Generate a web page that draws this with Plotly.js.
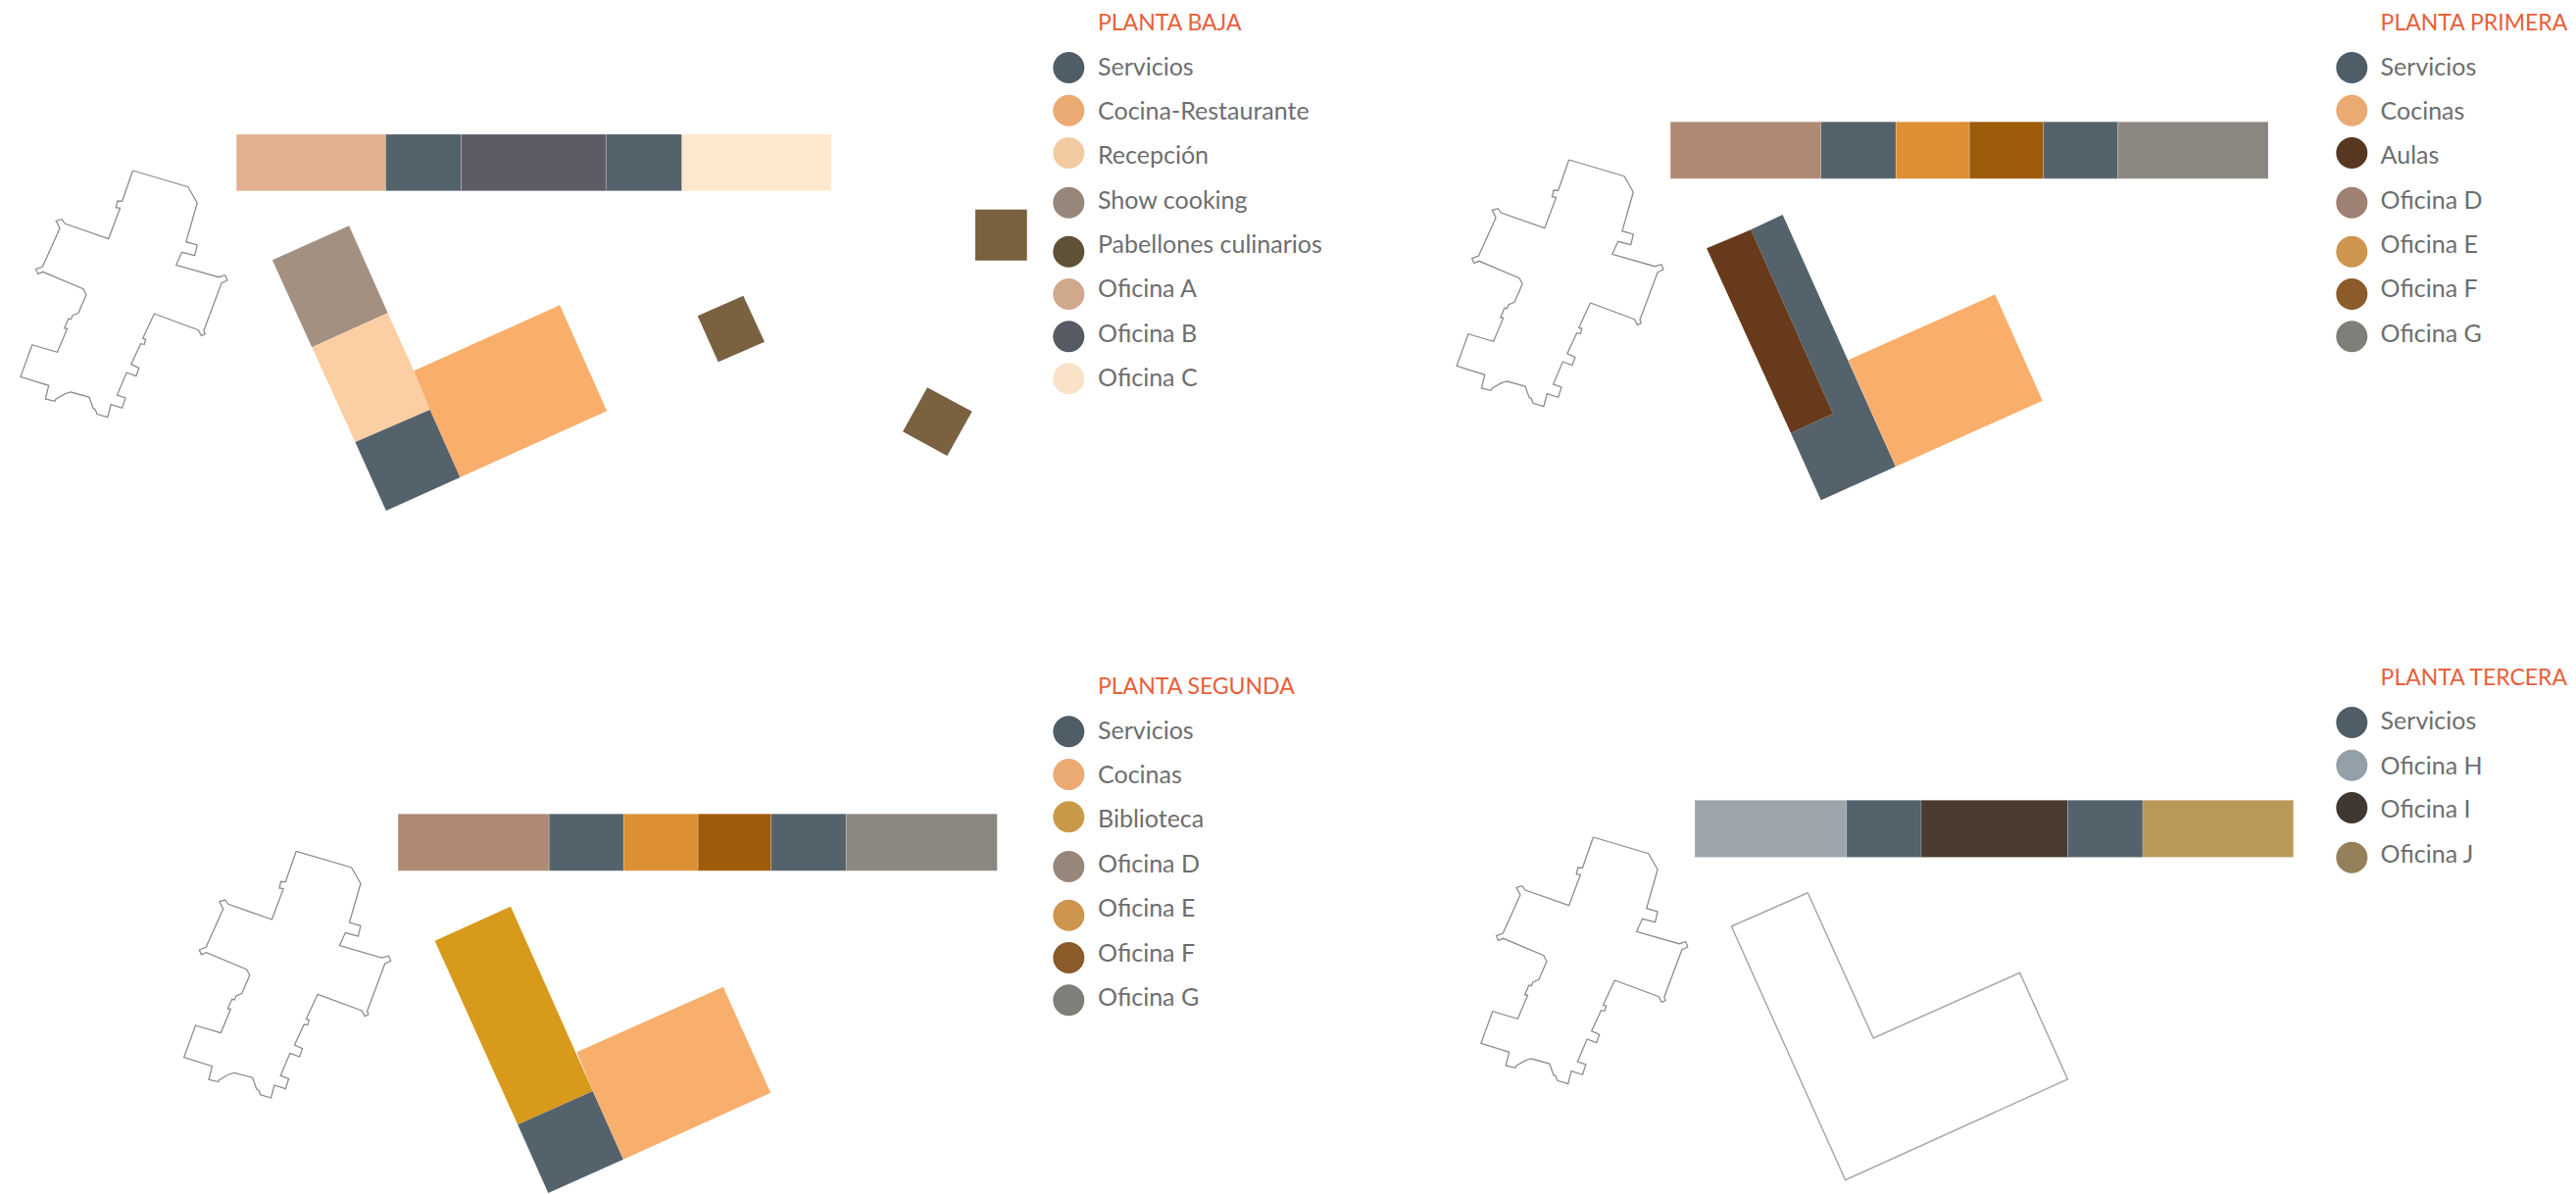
<!DOCTYPE html>
<html>
<head>
<meta charset="utf-8">
<script src="https://cdn.plot.ly/plotly-3.0.1.min.js"></script>
<style>html,body{margin:0;padding:0;background:#fff}#chart{width:2628px;height:1218px}</style>
</head>
<body>
<div id="chart"></div>
<script>
// ---- Site outline (plan units, panel 1 placement) ----
const outlineX = [135.5,191.9,201.2,189.8,201.2,198.7,185.6,179.7,223.1,229.8,231.9,226.0,207.9,209.2,205.4,202.4,157.4,145.6,148.6,147.3,143.5,133.8,141.8,138.9,129.2,119.5,127.9,124.6,113.2,109.8,98.9,97.2,95.1,93.4,90.9,72.4,66.5,56.8,56.0,46.3,49.7,21.0,32.8,58.5,68.6,65.7,69.9,72.4,74.1,80.0,88.0,85.0,43.8,38.7,36.6,43.4,61.0,57.2,63.1,66.1,110.7,122.5,118.3,119.9,124.6,135.5];
const outlineY = [174,190.7,207,246.7,250,260.7,257.3,270.3,282.7,280.7,286,288.7,337.3,340.7,342.3,336.7,320,345.3,346,351.3,350.7,371.7,375.3,383.7,380,403,406,416.3,412.7,425.7,422.3,417.7,416.7,411.7,405,400,401.7,407.3,409.3,407,393.3,384.3,351.7,359.3,335.3,334.7,325,325.7,321.7,319.3,300.7,294.7,277.3,279.3,274.7,272,233,225.3,223.7,228,243.7,212.3,211.7,205,205.3,174];
const outlineShiftX = [0, 1465.1, 166.7, 1489.9];
const outlineShiftY = [0, -11, 694.3, 680];

// ---- Strip bars ----
const barEdges1 = [241.2,393.5,470.5,618.3,695.7,848];
const barEdges2 = [1704.1,1857.7,1934.3,2009.2,2084.7,2160.7,2314];
const barEdges3 = [406.1,560.2,636.3,712.1,786.7,863.3,1017.3];
const barEdges4 = [1729,1883.8,1960,2109.7,2186,2339.7];
const barRange1 = [137,194.7];
const barRange2 = [124.3,182.3];
const barRange3 = [830.3,888.3];
const barRange4 = [816.3,874.5];
const barColors1 = ['#e2b08f','#54626c','#5f5b66','#54626c','#fde8cd'];
const barColors2 = ['#af8974','#54626c','#dc8f33','#9e5b0a','#54626c','#8c8680'];
const barColors3 = ['#af8974','#54626c','#dc8f33','#9e5b0a','#54626c','#8c8680'];
const barColors4 = ['#9da4ab','#54626c','#4b3c32','#54626c','#ba9958'];

// ---- Plan blocks ----
const blocks = [
  ['Show cooking',[356.1,395.6,318.2,277.8],[230.3,319.3,354.3,265.3],'#a39080'],
  ['Recepción',[395.6,422.1,438.6,362.4,318.2],[319.3,378.3,418,451,354.3],'#fbcfa3'],
  ['Cocina-Restaurante',[571.1,619.1,469.3,438.6,422.1],[311.3,419.3,487,418,378.3],'#f9ae6b'],
  ['Servicios',[438.6,469.3,393.9,362.4],[418,487,521,451],'#54626c'],
  ['Pabellón 1',[995,1047.7,1047.7,995],[213.7,213.7,265.7,265.7],'#7a6140'],
  ['Pabellón 2',[758.3,780,732.7,711.7],[301.7,348.7,369.3,322.3],'#7a6140'],
  ['Pabellón 3',[946,991.7,966.3,921],[395.3,419.7,465,440.3],'#7a6140'],
  ['Servicios',[1818.6,1933.9,1857.7,1827,1869.9,1786.2],[219,476,510.3,441.7,422,234.3],'#54626c'],
  ['Aulas',[1786.2,1869.9,1827,1741.1],[234.3,422,441.7,253.3],'#683a1c'],
  ['Cocinas',[2035.3,2083.7,1933.9,1885.5],[300.3,408.7,476,367.3],'#f9ae6b'],
  ['Biblioteca',[521,604.8,528.2,443.6],[924.7,1113,1147.3,959.7],'#d89a1b'],
  ['Servicios',[604.8,635.9,559.3,528.2],[1113,1182.7,1217,1147.3],'#54626c'],
  ['Cocinas',[737.8,786.2,635.9,604.8,588.4],[1006.7,1114.7,1182.7,1113,1073.3],'#f8ae6d']
];
const emptyBlockX = [1844.3,1911.2,2060.6,2109.4,1882.6,1766.4,1844.3];
const emptyBlockY = [910.7,1059,992.3,1101,1203.7,945,910.7];

// ---- Legends ----
const titles = ['PLANTA BAJA','PLANTA PRIMERA','PLANTA SEGUNDA','PLANTA TERCERA'];
const titleY = [25,25,702,693];
const labels1 = ['Servicios','Cocina-Restaurante','Recepción','Show cooking','Pabellones culinarios','Oficina A','Oficina B','Oficina C'];
const labels2 = ['Servicios','Cocinas','Aulas','Oficina D','Oficina E','Oficina F','Oficina G'];
const labels3 = ['Servicios','Cocinas','Biblioteca','Oficina D','Oficina E','Oficina F','Oficina G'];
const labels4 = ['Servicios','Oficina H','Oficina I','Oficina J'];
const dotY1 = [69,112.7,156,206.7,256.7,300,343.3,386.3];
const dotY2 = [69,112.7,156,206.7,256.7,300,343.3];
const dotY3 = [746.3,790,833.3,884,933.7,977,1020.3];
const dotY4 = [737,780.7,824,874.7];
const textY1 = [70.8,115.8,160.5,206.8,251.8,297.2,342.8,388.2];
const textY2 = [70.8,115.8,160.5,206.8,251.8,297.2,342.8];
const textY3 = [747.5,792.8,837.5,883.5,928.5,974.5,1019.8];
const textY4 = [737.8,783.5,828.2,874.2];
const dotColors1 = ['#4f5d66','#ebaa72','#f3cba2','#97877b','#5f5038','#d0a88c','#555a63','#f9e2c8'];
const dotColors2 = ['#4f5d66','#ebaa72','#573720','#9e8172','#cd954e','#8b5b29','#807e78'];
const dotColors3 = ['#4f5d66','#ebaa72','#c89a48','#97877b','#cd954e','#8b5b29','#807e78'];
const dotColors4 = ['#4f5d66','#94a0a7','#3f3830','#94805a'];
const dotColumn = [1090.3,2399.3,1090.3,2399.3];
const textColumn = [1120,2428.6,1120,2428.6];

const FONT = 'Lato, sans-serif';
const traces = [];

// strips
[[barEdges1,barRange1,barColors1],[barEdges2,barRange2,barColors2],[barEdges3,barRange3,barColors3],[barEdges4,barRange4,barColors4]].forEach(([edges,range,colors])=>{
  traces.push({
    type:'bar', orientation:'h',
    base: edges.slice(0,-1),
    x: edges.slice(1).map((e,i)=>e-edges[i]),
    y: colors.map(()=>(range[0]+range[1])/2),
    width: colors.map(()=>range[1]-range[0]),
    marker:{color:colors,line:{color:'rgba(255,255,255,0.2)',width:1}},
    hoverinfo:'skip', showlegend:false
  });
});

// outlines
outlineShiftX.forEach((sx,i)=>{
  traces.push({
    type:'scatter', mode:'lines',
    x: outlineX.map(v=>v+sx), y: outlineY.map(v=>v+outlineShiftY[i]),
    line:{color:'#8d8d8d',width:1.3}, hoverinfo:'skip', showlegend:false
  });
});

// blocks
blocks.forEach(([name,x,y,color])=>{
  traces.push({
    type:'scatter', mode:'none', fill:'toself', name,
    x: x.concat(x[0]), y: y.concat(y[0]), fillcolor:color,
    hoverinfo:'skip', showlegend:false
  });
});
traces.push({
  type:'scatter', mode:'lines', x:emptyBlockX, y:emptyBlockY,
  line:{color:'#a8a8a8',width:1.5}, hoverinfo:'skip', showlegend:false
});

// legends
[[labels1,dotY1,textY1,dotColors1],[labels2,dotY2,textY2,dotColors2],[labels3,dotY3,textY3,dotColors3],[labels4,dotY4,textY4,dotColors4]].forEach(([labels,dy,ty,colors],i)=>{
  traces.push({
    type:'scatter', mode:'markers',
    x: labels.map(()=>dotColumn[i]), y: dy,
    marker:{size:32,color:colors,line:{width:0}},
    hoverinfo:'skip', showlegend:false
  });
  traces.push({
    type:'scatter', mode:'text',
    x: labels.map(()=>textColumn[i]), y: ty, text: labels,
    textposition:'middle right',
    textfont:{family:FONT,size:25,color:'#6e6e6e'},
    cliponaxis:false, hoverinfo:'skip', showlegend:false
  });
  traces.push({
    type:'scatter', mode:'text',
    x:[textColumn[i]], y:[titleY[i]], text:[titles[i]],
    textposition:'middle right',
    textfont:{family:FONT,size:23,color:'#e8603a'},
    cliponaxis:false, hoverinfo:'skip', showlegend:false
  });
});

const layout = {
  width:2628, height:1218,
  margin:{l:0,r:0,t:0,b:0,pad:0},
  paper_bgcolor:'#ffffff', plot_bgcolor:'#ffffff',
  barmode:'overlay', showlegend:false,
  xaxis:{range:[0,2628],visible:false,fixedrange:true},
  yaxis:{range:[1218,0],visible:false,fixedrange:true}
};
Plotly.newPlot('chart',traces,layout,{displayModeBar:false,staticPlot:true});
</script>
</body>
</html>
